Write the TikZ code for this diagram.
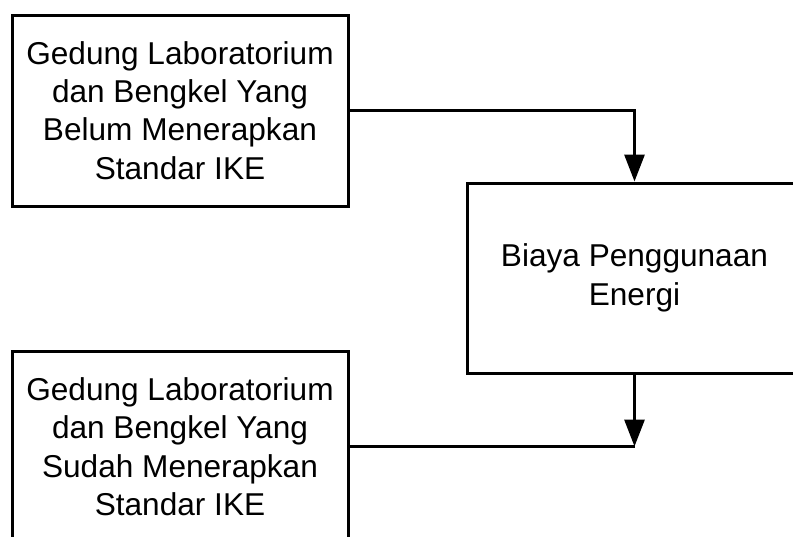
\documentclass[tikz,border=0pt]{standalone}
\usepackage{fontspec}
\setmainfont{Liberation Sans}
\usetikzlibrary{arrows.meta}
\tikzset{
    kotak/.style={draw,line width=1.5pt,align=center,font=\fontsize{15.8}{19.2}\selectfont},
    panah/.style={line width=1.5pt,-{Triangle[length=13.5pt,width=10pt]}}
}
\begin{document}
\begin{tikzpicture}[x=0.5pt,y=-0.5pt]
    \path[use as bounding box,clip] (0,0) rectangle (793,536);
    \node [kotak,minimum width=168pt,minimum height=95.5pt] (belum) at (180,110.5) {Gedung Laboratorium\\dan Bengkel Yang\\Belum Menerapkan\\Standar IKE};
    \node [kotak,minimum width=167.5pt,minimum height=95pt] (biaya) at (634.5,278) {Biaya Penggunaan\\Energi};
    \node [kotak,minimum width=168pt,minimum height=95.5pt] (sudah) at (180,446.5) {Gedung Laboratorium\\dan Bengkel Yang\\Sudah Menerapkan\\Standar IKE};
    \coordinate (temu) at (biaya.south |- sudah.east);
    \draw [panah] (belum.east) -| (biaya.north);
    \draw [panah] (biaya.south) -- (temu);
    \draw [line width=1.5pt] (sudah.east) -- (temu);
\end{tikzpicture}
\end{document}
